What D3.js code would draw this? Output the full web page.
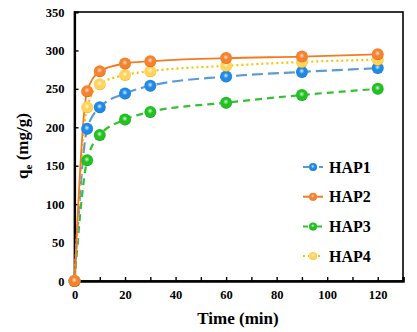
<!DOCTYPE html>
<html><head><meta charset="utf-8">
<script src="https://cdn.jsdelivr.net/npm/d3@7"></script>
<style>body{margin:0;background:#fff}svg{display:block}</style>
</head><body>
<script>
const times = [0, 5, 10, 20, 30, 60, 90, 120];
const hap1 = [0, 198, 226, 244, 254, 266, 272, 277];
const hap2 = [0, 247, 273, 283, 286, 290, 292, 295];
const hap3 = [0, 157, 190, 210, 220, 232, 242, 250];
const hap4 = [0, 226, 256, 268, 273, 280, 285, 288];
const seriesNames = ["HAP1", "HAP2", "HAP3", "HAP4"];
const xTicks = [0, 20, 40, 60, 80, 100, 120];
const yTicks = [0, 50, 100, 150, 200, 250, 300, 350];

const FONT = "font-family:'Liberation Serif','Times New Roman',serif;font-weight:bold";
const W = 417, H = 332;
const m = {left: 74.5, top: 12, right: 403, bottom: 281};
const svg = d3.select("body").append("svg").attr("width", W).attr("height", H);
const x = d3.scaleLinear().domain([0, 130]).range([m.left, m.right]);
const y = d3.scaleLinear().domain([0, 350]).range([m.bottom, m.top]);

const styles = [
  {line: "#5b9bd5", fill: "#1e8ae6", dark: "#1565b0", light: "#d5eaff", dash: "11,5", w: 2.2},
  {line: "#f57a22", fill: "#f5822e", dark: "#c85a14", light: "#ffdcc2", dash: null, w: 1.8},
  {line: "#33c133", fill: "#22c022", dark: "#128a12", light: "#cdf8cd", dash: "7,5", w: 2.2},
  {line: "#ffc000", fill: "#ffd35c", dark: "#e6a800", light: "#fff6d6", dash: "2,3", w: 2.2}
];
const data = [hap1, hap2, hap3, hap4];

const defs = svg.append("defs");
styles.forEach((s, i) => {
  const g = defs.append("radialGradient").attr("id", "g" + i)
    .attr("cx", "48%").attr("cy", "42%").attr("r", "58%");
  g.append("stop").attr("offset", "0%").attr("stop-color", s.light);
  g.append("stop").attr("offset", "40%").attr("stop-color", s.fill);
  g.append("stop").attr("offset", "85%").attr("stop-color", s.fill);
  g.append("stop").attr("offset", "100%").attr("stop-color", s.dark);
});

svg.append("rect").attr("x", m.left).attr("y", m.top)
  .attr("width", m.right - m.left).attr("height", m.bottom - m.top)
  .attr("fill", "none").attr("stroke", "#000").attr("stroke-width", 1.6);

const xAxis = d3.axisBottom(x).tickValues(xTicks).tickSize(-4).tickPadding(9).tickFormat(d3.format("d"));
const xMinor = d3.axisBottom(x).tickValues(d3.range(10, 130, 20)).tickSize(-4).tickFormat("");
const yAxis = d3.axisLeft(y).tickValues(yTicks).tickSize(-4).tickPadding(10).tickFormat(d3.format("d"));
const gx = svg.append("g").attr("transform", `translate(0,${m.bottom})`).call(xAxis);
const gxm = svg.append("g").attr("transform", `translate(0,${m.bottom})`).call(xMinor);
const gy = svg.append("g").attr("transform", `translate(${m.left},0)`).call(yAxis);
[gx, gxm, gy].forEach(g => {
  g.select(".domain").attr("stroke", "#000").attr("stroke-width", 2.2);
  g.selectAll(".tick line").attr("stroke", "#000").attr("stroke-width", 1.4);
  g.selectAll("text").attr("style", FONT).attr("font-size", 12.5).attr("fill", "#000");
});

const line = d3.line().x((d, i) => x(times[i])).y(d => y(d)).curve(d3.curveMonotoneX);
[2, 0, 3, 1].forEach(i => {
  const s = styles[i];
  svg.append("path").datum(data[i]).attr("d", line).attr("fill", "none")
    .attr("stroke", s.line).attr("stroke-width", s.w)
    .attr("stroke-dasharray", s.dash);
});
[2, 0, 3, 1].forEach(i => {
  svg.append("g").selectAll("circle").data(data[i]).join("circle")
    .attr("cx", (d, j) => x(times[j])).attr("cy", d => y(d)).attr("r", 6)
    .attr("fill", `url(#g${i})`);
});

const lg = svg.append("g");
seriesNames.forEach((n, i) => {
  const s = styles[i];
  const yy = 167 + i * 29.7;
  lg.append("line").attr("x1", 303).attr("x2", 323).attr("y1", yy).attr("y2", yy)
    .attr("stroke", s.line).attr("stroke-width", 2).attr("stroke-dasharray", i === 3 ? "2,3" : (i === 2 ? "5,2" : (i === 0 ? "6,2" : null)));
  lg.append("circle").attr("cx", 313).attr("cy", yy).attr("r", 4)
    .attr("fill", `url(#g${i})`);
  lg.append("text").attr("x", 329).attr("y", yy).attr("dy", "0.36em")
    .attr("style", FONT).attr("font-size", 16).text(n);
});

svg.append("text").attr("x", 238).attr("y", 324).attr("style", FONT)
  .attr("text-anchor", "middle").attr("font-size", 17).text("Time (min)");
const yl = svg.append("text").attr("transform", "translate(28,146) rotate(-90)").attr("style", FONT)
  .attr("text-anchor", "middle").attr("font-size", 17);
yl.append("tspan").text("q");
yl.append("tspan").attr("font-size", 11).attr("dy", 4).text("e");
yl.append("tspan").attr("dy", -4).text(" (mg/g)");
</script>
</body></html>
